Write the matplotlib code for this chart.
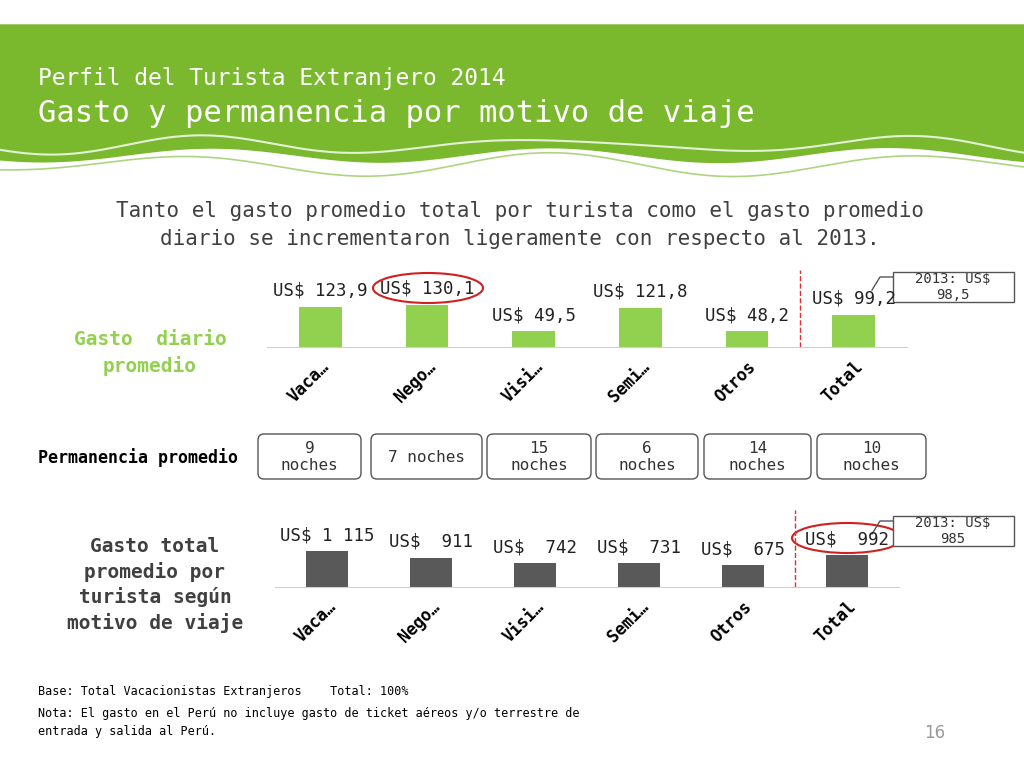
import numpy as np
import matplotlib
matplotlib.use("Agg")
import matplotlib.pyplot as plt
from matplotlib.patches import FancyBboxPatch, Ellipse, Polygon, Rectangle

categories = ["Vaca…", "Nego…", "Visi…", "Semi…", "Otros", "Total"]
gasto_diario = [123.9, 130.1, 49.5, 121.8, 48.2, 99.2]
gasto_diario_lbl = ["US$ 123,9", "US$ 130,1", "US$ 49,5", "US$ 121,8", "US$ 48,2", "US$ 99,2"]
gasto_total = [1115, 911, 742, 731, 675, 992]
gasto_total_lbl = ["US$ 1 115", "US$  911", "US$  742", "US$  731", "US$  675", "US$  992"]
permanencia = ["9\nnoches", "7 noches", "15\nnoches", "6\nnoches", "14\nnoches", "10\nnoches"]

W, H = 1024, 768
fig = plt.figure(figsize=(10.24, 7.68), dpi=100)
MONO = "DejaVu Sans Mono"
GREEN = "#7ab82e"

ov = fig.add_axes([0, 0, 1, 1])
ov.set_xlim(0, W); ov.set_ylim(H, 0); ov.axis("off")

xs = np.linspace(0, W, 300)
bottom = 155 + 10*np.sin(xs/170*np.pi + 0.5) - 4*np.sin(xs/55)
pts = [(0, 25)] + [(W, 25)] + list(zip(xs[::-1], bottom[::-1]))
ov.add_patch(Polygon(pts, closed=True, color=GREEN, zorder=1))
ov.plot(xs, bottom - 10 + 3*np.sin(xs/40), color="white", lw=1.5, alpha=0.8, zorder=2)
ov.plot(xs, bottom + 10 - 5*np.sin(xs/70), color=GREEN, lw=1.2, alpha=0.6, zorder=2)
ov.text(38, 78, "Perfil del Turista Extranjero 2014", color="white", fontsize=16.5, family=MONO, va="center")
ov.text(38, 113, "Gasto y permanencia por motivo de viaje", color="white", fontsize=22, family=MONO, va="center")

ov.text(520, 225, "Tanto el gasto promedio total por turista como el gasto promedio\ndiario se incrementaron ligeramente con respecto al 2013.",
        ha="center", va="center", fontsize=15, family=MONO, color="#404040", linespacing=1.45)

ov.text(150, 353, "Gasto  diario\npromedio", ha="center", va="center", fontsize=14, family=MONO,
        color="#92d050", fontweight="bold", linespacing=1.4)
ov.text(38, 458, "Permanencia promedio", ha="left", va="center", fontsize=12, family=MONO, fontweight="bold")
ov.text(155, 585, "Gasto total\npromedio por\nturista según\nmotivo de viaje", ha="center", va="center", fontsize=14,
        family=MONO, color="#404040", fontweight="bold", linespacing=1.35)

boxes = [(258, 361), (371, 482), (487, 591), (596, 698), (704, 811), (817, 926)]
for (x0, x1), t in zip(boxes, permanencia):
    ov.add_patch(FancyBboxPatch((x0, 434), x1 - x0, 45, boxstyle="round,pad=0,rounding_size=6",
                                fc="white", ec="#555555", lw=1))
    ov.text((x0 + x1)/2, 457, t, ha="center", va="center", fontsize=11.5, family=MONO, color="#333333")

def chart(rect, vals, lbls, ymax, color):
    ax = fig.add_axes(rect)
    x = np.arange(len(vals))
    ax.bar(x, vals, width=0.4, color=color)
    ax.set_xlim(-0.5, len(vals) - 0.5)
    ax.set_ylim(0, ymax)
    for i, (v, l) in enumerate(zip(vals, lbls)):
        ax.annotate(l, (i, v), xytext=(0, 5), textcoords="offset points", ha="center", va="bottom",
                    fontsize=12.5, family=MONO, color="#222222")
    ax.set_yticks([])
    ax.set_xticks(x)
    ax.set_xticklabels(categories, rotation=45, ha="right", rotation_mode="anchor",
                       fontsize=12, family=MONO, fontweight="bold")
    ax.tick_params(axis="x", length=0, pad=8)
    for s in ["top", "right", "left"]:
        ax.spines[s].set_visible(False)
    ax.spines["bottom"].set_color("#d0d0d0")
    ax.patch.set_alpha(0)
    ax.axvline(4.5, color="#e03030", ls="--", lw=1)
    return ax

chart([267/W, 1 - 347/H, 640/W, 77/H], gasto_diario, gasto_diario_lbl, 238, "#92d050")
chart([275/W, 1 - 587/H, 624/W, 77/H], gasto_total, gasto_total_lbl, 2385, "#595959")

ov.add_patch(Ellipse((428, 288), 110, 30, fill=False, ec="#d02020", lw=1.5))
ov.add_patch(Ellipse((847, 538), 110, 30, fill=False, ec="#d02020", lw=1.5))

for (y, t) in [(272, "2013: US$\n98,5"), (516, "2013: US$\n985")]:
    ov.add_patch(Rectangle((893, y), 121, 30, fc="white", ec="#555555", lw=1))
    ov.text(953, y + 15, t, ha="center", va="center", fontsize=10, family=MONO, color="#333333", linespacing=1.1)
    ov.plot([872, 880, 893], [y + 18, y + 5, y + 5], color="#555555", lw=1)

ov.text(38, 692, "Base: Total Vacacionistas Extranjeros    Total: 100%", fontsize=8.5, family=MONO, va="center")
ov.text(38, 707, "Nota: El gasto en el Perú no incluye gasto de ticket aéreos y/o terrestre de\nentrada y salida al Perú.",
        fontsize=8.5, family=MONO, va="top", linespacing=1.5)
ov.text(935, 733, "16", fontsize=12, color="#999999", ha="center", va="center")

fig.savefig("out.png", dpi=100)
